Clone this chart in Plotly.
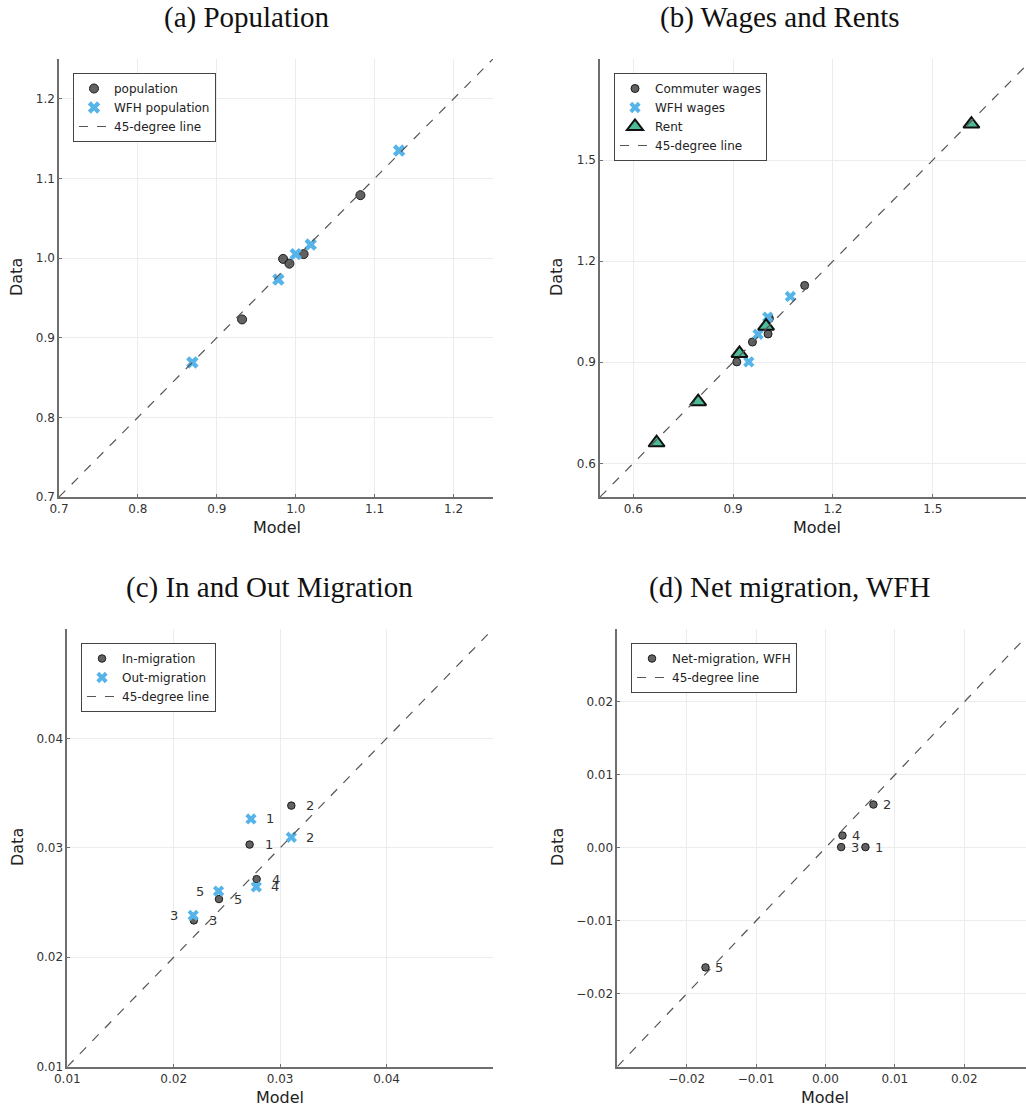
import plotly.graph_objects as go

# ---------------- data ----------------
# (a) Population
pop_model = [0.932, 0.984, 0.992, 1.010, 1.082]
pop_data = [0.923, 0.999, 0.993, 1.005, 1.079]
wfh_pop_model = [0.869, 0.978, 1.000, 1.019, 1.131]
wfh_pop_data = [0.869, 0.973, 1.005, 1.017, 1.135]
line_a = [0.7, 1.25]

# (b) Wages and Rents
cw_model = [0.911, 0.958, 1.005, 1.009, 1.115]
cw_data = [0.901, 0.960, 0.984, 1.030, 1.128]
wfhw_model = [0.947, 0.975, 1.004, 1.072]
wfhw_data = [0.901, 0.983, 1.034, 1.095]
rent_model = [0.670, 0.795, 0.919, 0.999, 1.616]
rent_data = [0.661, 0.783, 0.926, 1.007, 1.607]
line_b = [0.5, 1.8]

# (c) In and Out Migration
labels = ["1", "2", "3", "4", "5"]
in_model = [0.02713, 0.03105, 0.02189, 0.02779, 0.02425]
in_data = [0.03030, 0.03386, 0.02337, 0.02714, 0.02532]
out_model = [0.02726, 0.03105, 0.02183, 0.02776, 0.02421]
out_data = [0.03264, 0.03097, 0.02383, 0.02644, 0.02605]
line_c = [0.01, 0.05]

# (d) Net migration, WFH
net_model = [0.00576, 0.00691, 0.00226, 0.00245, -0.01729]
net_data = [0.0001, 0.00594, 0.0001, 0.00169, -0.01639]
line_d = [-0.03, 0.03]

# tick labels
ticks_a = [0.7, 0.8, 0.9, 1.0, 1.1, 1.2]
ticks_a_txt = ["0.7", "0.8", "0.9", "1.0", "1.1", "1.2"]
ticks_b = [0.6, 0.9, 1.2, 1.5]
ticks_b_txt = ["0.6", "0.9", "1.2", "1.5"]
ticks_c = [0.01, 0.02, 0.03, 0.04]
ticks_c_txt = ["0.01", "0.02", "0.03", "0.04"]
ticks_d = [-0.02, -0.01, 0.0, 0.01, 0.02]
ticks_d_txt = ["\u22120.02", "\u22120.01", "0.00", "0.01", "0.02"]

panel_titles = ["(a) Population", "(b) Wages and Rents",
                "(c) In and Out Migration", "(d) Net migration, WFH"]

# ---------------- style ----------------
W, H = 1026, 1109
GRAY_FILL = "rgba(70,70,70,0.85)"
GRAY_LINE = "#1a1a1a"
BLUE = "#56B4E9"
GREEN = "#4DBB98"
LINE_COL = "#555555"
SANS = "DejaVu Sans"
SERIF = "Liberation Serif"

# label side (+1 right, -1 left) for out-migration labels
out_side = [1, 1, -1, 1, -1]

fig = go.Figure()


def px_x(p):
    return p / W


def px_y(p):
    return 1 - p / H


def circle(x, y, name, xa, ya, legend, size=8):
    return go.Scatter(x=x, y=y, mode="markers", name=name, xaxis=xa, yaxis=ya, legend=legend,
                      marker=dict(symbol="circle", size=size, color=GRAY_FILL,
                                  line=dict(color=GRAY_LINE, width=1)))


def cross(x, y, name, xa, ya, legend, size=10):
    return go.Scatter(x=x, y=y, mode="markers", name=name, xaxis=xa, yaxis=ya, legend=legend,
                      marker=dict(symbol="x", size=size, color=BLUE, line=dict(width=0)))


def diag(v, xa, ya, legend):
    return go.Scatter(x=v, y=v, mode="lines", name="45-degree line", xaxis=xa, yaxis=ya,
                      legend=legend, line=dict(color=LINE_COL, width=1.2, dash="dash"))


# (a)
fig.add_trace(circle(pop_model, pop_data, "population", "x", "y", "legend", 9))
fig.add_trace(cross(wfh_pop_model, wfh_pop_data, "WFH population", "x", "y", "legend", 11))
fig.add_trace(diag(line_a, "x", "y", "legend"))

# (b)
fig.add_trace(circle(cw_model, cw_data, "Commuter wages", "x2", "y2", "legend2", 8))
fig.add_trace(cross(wfhw_model, wfhw_data, "WFH wages", "x2", "y2", "legend2", 10))
fig.add_trace(go.Scatter(x=rent_model, y=rent_data, mode="markers", name="Rent", xaxis="x2", yaxis="y2",
                         legend="legend2",
                         marker=dict(symbol="triangle-up", size=14, color=GREEN,
                                     line=dict(color="#111111", width=2))))
fig.add_trace(diag(line_b, "x2", "y2", "legend2"))

# (c)
fig.add_trace(circle(in_model, in_data, "In-migration", "x3", "y3", "legend3", 7.5))
fig.add_trace(cross(out_model, out_data, "Out-migration", "x3", "y3", "legend3", 10))
fig.add_trace(diag(line_c, "x3", "y3", "legend3"))

# (d)
fig.add_trace(circle(net_model, net_data, "Net-migration, WFH", "x4", "y4", "legend4", 7.5))
fig.add_trace(diag(line_d, "x4", "y4", "legend4"))

annotations = []
lab_font = dict(family=SANS, size=13, color="#333333")
for i, t in enumerate(labels):
    annotations.append(dict(x=in_model[i], y=in_data[i], xref="x3", yref="y3", text=t,
                            showarrow=False, xshift=19, font=lab_font))
    annotations.append(dict(x=out_model[i], y=out_data[i], xref="x3", yref="y3", text=t,
                            showarrow=False, xshift=19 * out_side[i], font=lab_font))
    annotations.append(dict(x=net_model[i], y=net_data[i], xref="x4", yref="y4", text=t,
                            showarrow=False, xshift=14, font=lab_font))

# panel titles
title_font = dict(family=SERIF, size=29, color="#111111")
title_pos = [(247, 18), (780, 18), (269, 587), (789, 587)]
for txt, (cx, cy) in zip(panel_titles, title_pos):
    annotations.append(dict(x=px_x(cx), y=px_y(cy), xref="paper", yref="paper", text=txt,
                            showarrow=False, xanchor="center", yanchor="middle", font=title_font))

# axis titles
ax_font = dict(family=SANS, size=16, color="#222222")
for cx, cy in [(277, 527), (817, 527), (280, 1097), (825, 1097)]:
    annotations.append(dict(x=px_x(cx), y=px_y(cy), xref="paper", yref="paper", text="Model",
                            showarrow=False, xanchor="center", yanchor="middle", font=ax_font))
for cx, cy in [(17, 277), (557, 277), (17, 847), (557, 847)]:
    annotations.append(dict(x=px_x(cx), y=px_y(cy), xref="paper", yref="paper", text="Data",
                            showarrow=False, xanchor="center", yanchor="middle", textangle=-90,
                            font=ax_font))

fig.update_layout(annotations=annotations)

axis_common = dict(showgrid=True, gridcolor="#ececec", gridwidth=1, zeroline=False,
                   showline=True, linecolor="#6e6e6e", linewidth=1.5, mirror=False,
                   ticks="inside", ticklen=3, tickcolor="#6e6e6e", automargin=False,
                   tickfont=dict(family=SANS, size=12, color="#333333"))

top_dom = [px_y(497), px_y(59)]
bot_dom = [px_y(1066.7), px_y(629)]

fig.update_layout(
    xaxis=dict(axis_common, domain=[px_x(59), px_x(493)], range=line_a, tickvals=ticks_a,
               ticktext=ticks_a_txt, anchor="y"),
    yaxis=dict(axis_common, domain=top_dom, range=line_a, tickvals=ticks_a, ticktext=ticks_a_txt,
               anchor="x"),
    xaxis2=dict(axis_common, domain=[px_x(600), 1.0], range=[0.5, 1.78], tickvals=ticks_b,
                ticktext=ticks_b_txt, anchor="y2"),
    yaxis2=dict(axis_common, domain=top_dom, range=line_b, tickvals=ticks_b, ticktext=ticks_b_txt,
                anchor="x2"),
    xaxis3=dict(axis_common, domain=[px_x(67.3), px_x(493)], range=line_c, tickvals=ticks_c,
                ticktext=ticks_c_txt, anchor="y3"),
    yaxis3=dict(axis_common, domain=bot_dom, range=line_c, tickvals=ticks_c, ticktext=ticks_c_txt,
                anchor="x3"),
    xaxis4=dict(axis_common, domain=[px_x(617.3), 1.0], range=[-0.03, 0.0289], tickvals=ticks_d,
                ticktext=ticks_d_txt, anchor="y4"),
    yaxis4=dict(axis_common, domain=bot_dom, range=line_d, tickvals=ticks_d, ticktext=ticks_d_txt,
                anchor="x4"),
)

leg_common = dict(bgcolor="white", bordercolor="#444444", borderwidth=1,
                  font=dict(family=SANS, size=12, color="#222222"),
                  xanchor="left", yanchor="top", tracegroupgap=0, itemsizing="trace",
                  itemwidth=30)
fig.update_layout(
    legend=dict(leg_common, x=px_x(73), y=px_y(73)),
    legend2=dict(leg_common, x=px_x(614), y=px_y(73)),
    legend3=dict(leg_common, x=px_x(81), y=px_y(643)),
    legend4=dict(leg_common, x=px_x(631), y=px_y(643)),
)

fig.update_layout(width=W, height=H, margin=dict(l=0, r=0, t=0, b=0, autoexpand=False),
                  plot_bgcolor="white", paper_bgcolor="white", showlegend=True)

fig.write_html("out.html")
